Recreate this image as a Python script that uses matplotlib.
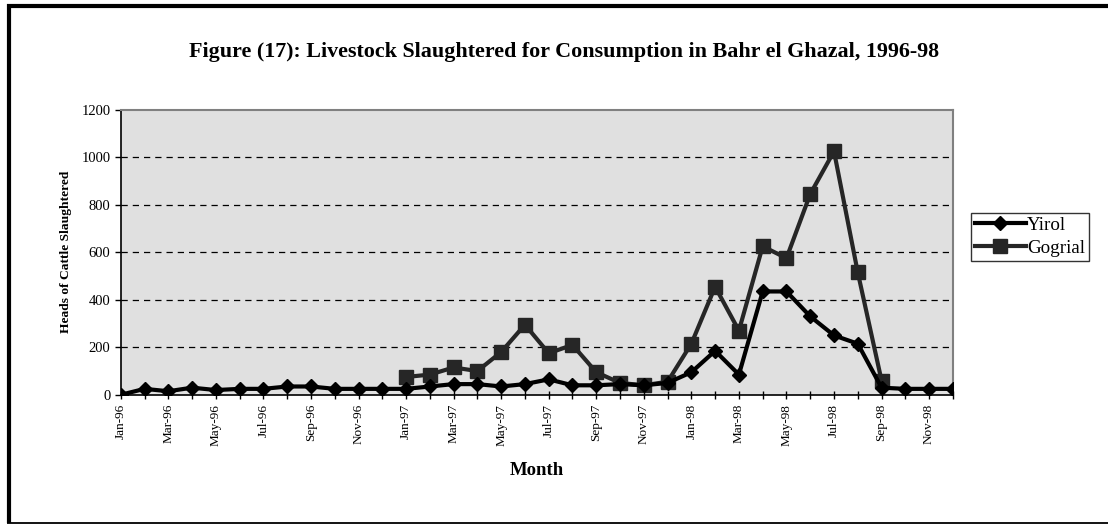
import numpy as np
import matplotlib.pyplot as plt
from matplotlib.lines import Line2D

plt.rcParams['font.family'] = ['Liberation Serif', 'DejaVu Serif']

# months Jan-96 .. Dec-98
months = ['Jan-96', 'Feb-96', 'Mar-96', 'Apr-96', 'May-96', 'Jun-96', 'Jul-96', 'Aug-96',
          'Sep-96', 'Oct-96', 'Nov-96', 'Dec-96',
          'Jan-97', 'Feb-97', 'Mar-97', 'Apr-97', 'May-97', 'Jun-97', 'Jul-97', 'Aug-97',
          'Sep-97', 'Oct-97', 'Nov-97', 'Dec-97',
          'Jan-98', 'Feb-98', 'Mar-98', 'Apr-98', 'May-98', 'Jun-98', 'Jul-98', 'Aug-98',
          'Sep-98', 'Oct-98', 'Nov-98', 'Dec-98']

yirol = [0, 25, 15, 30, 20, 25, 25, 35, 35, 25, 25, 25,
         25, 35, 45, 45, 35, 45, 65, 40, 40, 45, 40, 50,
         95, 185, 85, 435, 435, 330, 250, 215, 30, 25, 25, 25]

# Gogrial only reported Jan-97 .. Sep-98
gogrial = [75, 85, 115, 100, 180, 295, 175, 210, 95, 50, 40, 55,
           215, 455, 270, 625, 575, 845, 1025, 515, 60]
gog_start = 12

x = np.arange(len(months))
xg = np.arange(gog_start, gog_start + len(gogrial))

W, H = 1108, 525
fig = plt.figure(figsize=(W / 100, H / 100), dpi=100)
ax = fig.add_axes([0.109, 0.248, 0.751, 0.543])
ax.set_facecolor('#e0e0e0')

# dashed grid lines
for v in range(200, 1200, 200):
    ax.axhline(v, color='black', linestyle=(0, (5, 4)), linewidth=0.9, zorder=1)

ax.plot(xg, gogrial, color='#262626', linewidth=3, marker='s', markersize=10,
        label='Gogrial', zorder=3)
ax.plot(x, yirol, color='black', linewidth=3, marker='D', markersize=7.5,
        label='Yirol', zorder=4)

ax.set_xlim(0, len(months) - 1)
ax.set_ylim(0, 1200)
ax.set_yticks(range(0, 1201, 200))
ax.set_xticks(x[::2])
ax.set_xticklabels(months[::2], rotation=90, fontsize=9.5)
ax.set_xticks(x, minor=True)
ax.tick_params(axis='x', which='both', length=6, direction='inout', width=1)
ax.tick_params(axis='y', length=4, direction='out', labelsize=10.5, width=1)

for side in ['top', 'right']:
    ax.spines[side].set_color('#808080')
    ax.spines[side].set_linewidth(1.5)
ax.spines['left'].set_color('black')
ax.spines['bottom'].set_color('black')
ax.spines['left'].set_linewidth(1.2)
ax.spines['bottom'].set_linewidth(1.2)

ax.set_ylabel('Heads of Cattle Slaughtered', fontsize=9.7, fontweight='bold', labelpad=7)
ax.set_xlabel('Month', fontsize=13.5, fontweight='bold', labelpad=12)

fig.text(564 / W, 1 - 52 / H, 'Figure (17): Livestock Slaughtered for Consumption in Bahr el Ghazal, 1996-98',
         ha='center', va='center', fontsize=15.8, fontweight='bold')

handles, labels = ax.get_legend_handles_labels()
leg = fig.legend(handles[::-1], labels[::-1], loc='upper left',
                 bbox_to_anchor=(971 / W, 1 - 213 / H), fontsize=13.7, frameon=True,
                 fancybox=False, edgecolor='black', handlelength=2.7,
                 borderpad=0.2, labelspacing=0.3, handletextpad=0.05,
                 borderaxespad=0)
leg.get_frame().set_linewidth(1)

# outer border: thick top and left, thin bottom
px = lambda v: v / W
py = lambda v: 1 - v / H
fig.add_artist(Line2D([px(7), px(W)], [py(6), py(6)], color='black', linewidth=3,
                      solid_capstyle='butt'))
fig.add_artist(Line2D([px(9), px(9)], [py(4), py(523)], color='black', linewidth=3,
                      solid_capstyle='butt'))
fig.add_artist(Line2D([px(7), px(W)], [py(523), py(523)], color='black', linewidth=1.3,
                      solid_capstyle='butt'))

fig.savefig('out.png', dpi=100)
